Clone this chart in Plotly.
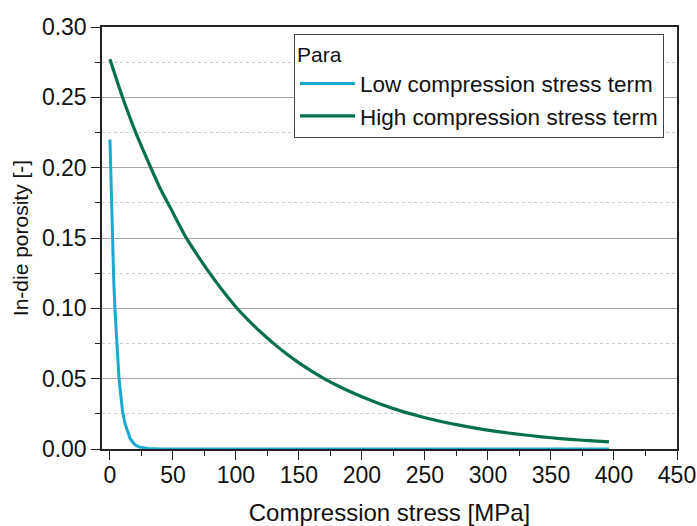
import plotly.graph_objects as go

# Data
low_x = [0, 1, 2, 3, 4, 5, 6, 7, 8, 9, 10, 12, 14, 16, 18, 20, 23, 26, 30, 40, 60, 100, 200, 300, 396]
low_y = [0.220, 0.180, 0.147, 0.120, 0.099, 0.081, 0.066, 0.053, 0.043, 0.034, 0.027, 0.018,
         0.012, 0.0075, 0.005, 0.003, 0.0015, 0.0008, 0.0003, 0.0, 0.0, 0.0, 0.0, 0.0, 0.0]

high_x = [0, 10, 20, 30, 40, 50, 60, 70, 80, 90, 100, 110, 120, 130, 140, 150, 160, 170, 180, 190,
          200, 215, 230, 245, 260, 275, 290, 305, 320, 335, 350, 365, 380, 396]
high_y = [0.277, 0.250, 0.226, 0.205, 0.185, 0.168, 0.151, 0.137, 0.124, 0.112, 0.101, 0.0915,
          0.0828, 0.0749, 0.0677, 0.0612, 0.0554, 0.0501, 0.0453, 0.0410, 0.0371, 0.0318, 0.0273,
          0.0235, 0.0201, 0.0173, 0.0148, 0.0127, 0.0109, 0.0094, 0.0080, 0.0069, 0.0059, 0.0050]

series_names = ["Low compression stress term", "High compression stress term"]
legend_title = "Para"
x_title = "Compression stress [MPa]"
y_title = "In-die porosity [-]"

FONT = "Liberation Sans, Arial, sans-serif"

fig = go.Figure()
fig.add_trace(go.Scatter(x=low_x, y=low_y, mode="lines", name=series_names[0],
                         line=dict(color="#1aaad0", width=3)))
fig.add_trace(go.Scatter(x=high_x, y=high_y, mode="lines", name=series_names[1],
                         line=dict(color="#07704f", width=3.2, shape="spline", smoothing=0.8)))

fig.update_layout(
    width=697, height=526,
    margin=dict(l=102, r=20, t=27, b=77),
    paper_bgcolor="white", plot_bgcolor="white",
    font=dict(family=FONT, size=22, color="#111"),
    showlegend=True,
    legend=dict(
        x=0.334, y=0.983, xanchor="left", yanchor="top",
        bgcolor="white", bordercolor="#444", borderwidth=1,
        title=dict(text=legend_title, font=dict(size=21)),
        font=dict(size=22.5), itemwidth=55,
        tracegroupgap=0,
    ),
)

fig.update_xaxes(
    range=[-6.3, 450], tick0=0, dtick=50, automargin=False,
    showline=True, linecolor="#222", linewidth=1.5, mirror=True,
    ticks="outside", ticklen=9, tickwidth=1.2, tickcolor="#222",
    showgrid=False, zeroline=False,
    tickfont=dict(size=23), ticklabelstandoff=-4,
    minor=dict(dtick=25, tick0=0, ticks="outside", ticklen=5, tickcolor="#222", showgrid=False),
    title=dict(text=x_title, font=dict(size=24), standoff=32),
)
fig.update_yaxes(
    range=[0, 0.30], tick0=0, dtick=0.05, tickformat=".2f", automargin=False,
    showline=True, linecolor="#222", linewidth=1.5, mirror=True,
    ticks="outside", ticklen=9, tickwidth=1.2, tickcolor="#222",
    showgrid=True, gridcolor="#a8a8a8", gridwidth=1,
    zeroline=False,
    tickfont=dict(size=23),
    minor=dict(dtick=0.025, tick0=0, ticks="outside", ticklen=5, tickcolor="#222",
               showgrid=True, gridcolor="#cccccc", griddash="dot", gridwidth=1),
    title=dict(text=y_title, font=dict(size=21), standoff=8),
)

fig.write_html("out.html")
